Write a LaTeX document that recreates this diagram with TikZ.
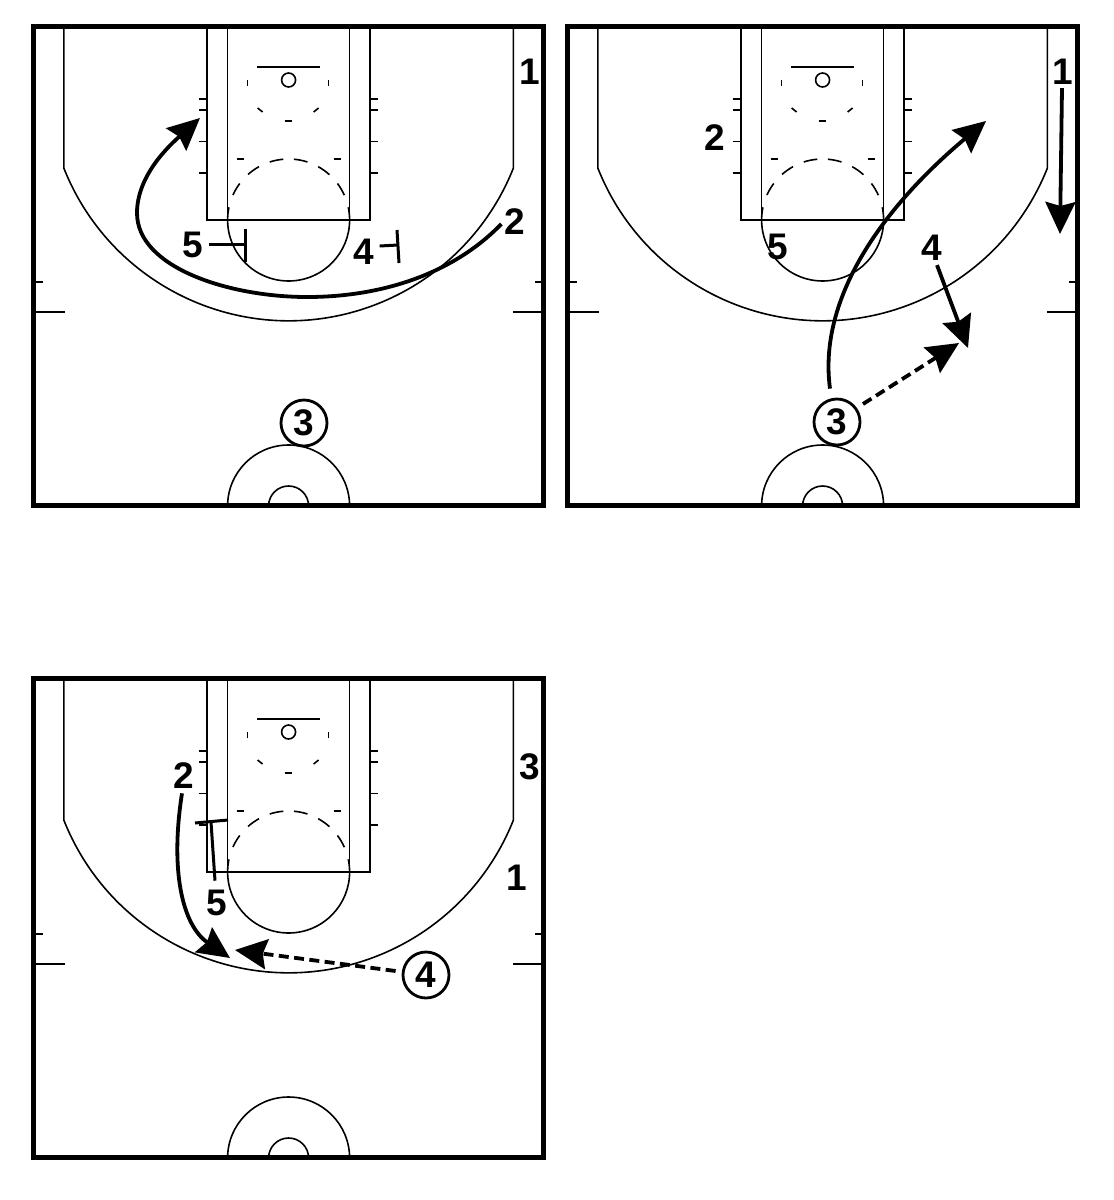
\documentclass[tikz,border=0pt]{standalone}
\usepackage{fontspec}
\setmainfont{Liberation Sans}
\usetikzlibrary{arrows.meta}
\tikzset{
  thin line/.style={line width=0.8pt},
  frame line/.style={line width=2.5pt},
  move/.style={line width=1.9pt,-{Stealth[length=16pt,width=15pt,inset=2pt]}},
  pass/.style={move,dash pattern=on 5pt off 2.7pt},
  screen/.style={line width=1.5pt},
  player/.style={inner sep=0pt,font=\fontsize{18.5}{20}\selectfont\bfseries},
  ball/.style={player,circle,draw,line width=1.4pt,minimum size=23pt}
}
\newcommand{\court}{%
  \draw[frame line] (-255.1,1.2) rectangle (255.1,480.2);
  \draw[thin line] (-81.5,480) -- (-81.5,287) -- (81.5,287) -- (81.5,480);
  \draw[thin line] (-61,480) -- (-61,287) (61,287) -- (61,480);
  \draw[thin line] ({61*cos(12)},{287+61*sin(12)}) arc (12:-192:61);
  \foreach \a/\b in {24/36.8,48/61,72/85,95/108,119/131.7,143.2/155.8}
    \draw[thin line] ({61*cos(\a)},{287+61*sin(\a)}) arc (\a:\b:61);
  \draw[thin line] (0,427) circle (7);
  \draw[thin line] (-31.5,440) -- (31.5,440);
  \draw[thin line] (-224.8,480) -- (-224.8,339) arc (201.6:338.4:241.8) -- (224.8,480);
  \draw[thin line] (-253,195) -- (-224,195) (253,195) -- (224,195);
  \draw[thin line] (-253,225) -- (-246,225) (253,225) -- (246,225);
  \foreach \v in {408,397,365.5,334}
    \draw[thin line] (-90,\v) -- (-81.5,\v) (81.5,\v) -- (89,\v);
  \draw[thin line] (-41,421) -- (-41,427.5) (40,421) -- (40,427.5);
  \draw[thin line] (-31,399) -- (-26,395) (30,399) -- (25,395);
  \draw[thin line] (-4,386) -- (3,386);
  \draw[thin line] (-52,348) -- (-45,348) (45,348) -- (52,348);
  \draw[thin line] (-61,1) arc (180:0:61);
  \draw[thin line] (-20,1) arc (180:0:20);
}
\begin{document}
\begin{tikzpicture}[x=0.5pt,y=-0.5pt]
\useasboundingbox (0,0) rectangle (1114,1200);
\begin{scope}[shift={(288.6,507)},y=0.5pt]\court\end{scope}
\begin{scope}[shift={(822.6,507)},y=0.5pt]\court\end{scope}
\begin{scope}[shift={(288.6,1159)},y=0.5pt]\court\end{scope}
% panel 1
\node[player] (aone) at (530,72) {1};
\node[player] (atwo) at (515,222) {2};
\node[player] (afive) at (193,245) {5};
\node[player] (afour) at (364,252) {4};
\node[ball] (athree) at (304,423) {3};
\coordinate (acut) at (200,118);
\coordinate (afa) at (245,229); \coordinate (afb) at (245,262); \coordinate (afm) at (245,244);
\coordinate (aga) at (397,230); \coordinate (agb) at (399,263); \coordinate (agm) at (398,245);
\draw[move] (atwo.west) ++(-3,2) .. controls (455,272) and (385,297) .. (307,297)
   .. controls (230,297) and (137,268) .. (137,213)
   .. controls (137,175) and (170,145) .. (acut);
\draw[screen] (afive.east) ++(5,-1) -- (afm);
\draw[screen] (afa) -- (afb);
\draw[screen] (afour.east) ++(5,-6) -- (agm);
\draw[screen] (aga) -- (agb);
% panel 2
\node[player] (bone) at (1063,72) {1};
\node[player] (btwo) at (715,138) {2};
\node[player] (bfive) at (778,247) {5};
\node[player] (bfour) at (932,248) {4};
\node[ball] (bthree) at (837,422) {3};
\coordinate (bonee) at (1060,234);
\coordinate (bcut) at (986,121);
\coordinate (bfe) at (968,348);
\coordinate (bpe) at (959,343);
\draw[move] (bone.south) ++(-1,3) -- (bonee);
\draw[move] (bthree.north) ++(-7,-9) .. controls (818,300) and (880,210) .. (bcut);
\draw[move] (bfour.south) ++(5,4) -- (bfe);
\draw[pass] (bthree) ++(26,-18) -- (bpe);
% panel 3
\node[player] (cthree) at (530,767) {3};
\node[player] (cone) at (517,878) {1};
\node[player] (ctwo) at (184,776) {2};
\node[player] (cfive) at (216.5,903) {5};
\node[ball] (cfour) at (426,975) {4};
\coordinate (cae) at (230,958);
\coordinate (cpe) at (235,950);
\coordinate (csa) at (195,823); \coordinate (csb) at (228,820); \coordinate (csm) at (211,822);
\draw[move] (ctwo.south) ++(-2,4) .. controls (170,870) and (182,925) .. (cae);
\draw[pass] (cfour.west) ++(-6,-4) -- (cpe);
\draw[screen] (cfive.north) ++(-1.5,-9) -- (csm);
\draw[screen] (csa) -- (csb);
\end{tikzpicture}
\end{document}
